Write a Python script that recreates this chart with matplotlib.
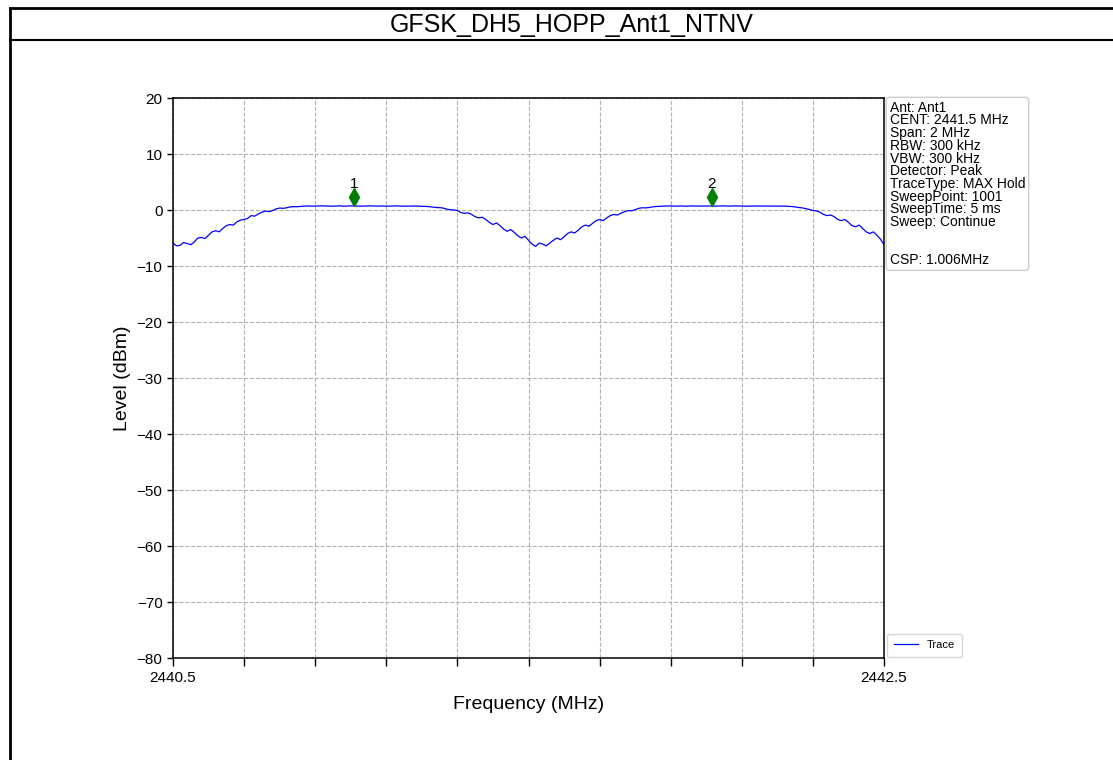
import numpy as np
import matplotlib
matplotlib.use("Agg")
import matplotlib.pyplot as plt
from matplotlib.lines import Line2D
from matplotlib.transforms import offset_copy

plt.rcParams["font.family"] = ["Liberation Sans", "DejaVu Sans"]

# sweep: 2440.5 .. 2442.5 MHz, values every 0.01 MHz
freq = np.linspace(2440.5, 2442.5, 201)
level = [
    -5.9, -6.4, -6.3, -5.8, -6.0, -6.2, -5.7, -5.0, -4.9, -5.1,
    -4.5, -3.9, -3.7, -3.9, -3.3, -2.8, -2.6, -2.7, -2.1, -1.8,
    -1.7, -1.5, -1.0, -1.1, -0.7, -0.4, -0.2, -0.3, -0.1, 0.2,
    0.35, 0.3, 0.4, 0.55, 0.6, 0.58, 0.65, 0.7, 0.72, 0.69,
    0.7, 0.73, 0.75, 0.71, 0.7, 0.68, 0.72, 0.74, 0.68, 0.7,
    0.74, 0.72, 0.7, 0.69, 0.71, 0.73, 0.73, 0.7, 0.7, 0.72,
    0.68, 0.7, 0.72, 0.74, 0.7, 0.68, 0.69, 0.71, 0.71, 0.7,
    0.66, 0.64, 0.6, 0.52, 0.45, 0.42, 0.35, 0.15, 0.05, 0.0,
    -0.1, -0.45, -0.6, -0.5, -0.8, -1.2, -1.4, -1.3, -1.7, -2.2,
    -2.6, -2.3, -2.8, -3.4, -3.8, -3.5, -4.0, -4.6, -5.0, -4.7,
    -5.4, -6.1, -6.5, -5.9, -6.1, -6.4, -5.9, -5.4, -5.0, -5.3,
    -4.8, -4.2, -3.9, -4.1, -3.6, -3.0, -2.7, -2.9, -2.4, -1.9,
    -1.7, -1.9, -1.4, -1.0, -0.8, -0.9, -0.6, -0.3, -0.1, -0.15,
    0.05, 0.3, 0.4, 0.38, 0.45, 0.58, 0.62, 0.65, 0.7, 0.72,
    0.72, 0.7, 0.7, 0.73, 0.68, 0.71, 0.73, 0.7, 0.7, 0.69,
    0.71, 0.72, 0.69, 0.7, 0.72, 0.74, 0.7, 0.71, 0.74, 0.72,
    0.7, 0.68, 0.68, 0.71, 0.71, 0.7, 0.7, 0.72, 0.72, 0.7,
    0.69, 0.7, 0.7, 0.66, 0.62, 0.55, 0.45, 0.38, 0.25, 0.1,
    -0.1, -0.15, -0.4, -0.8, -1.0, -0.9, -1.2, -1.7, -1.9, -1.7,
    -2.2, -2.8, -3.0, -2.7, -3.3, -3.9, -4.2, -3.9, -4.5, -5.2,
    -6.2,
]

mk_freq = [2441.009, 2442.015]
mk_level = [0.72, 0.72]
mk_names = ["1", "2"]

info_lines = [
    "Ant: Ant1",
    "CENT: 2441.5 MHz",
    "Span: 2 MHz",
    "RBW: 300 kHz",
    "VBW: 300 kHz",
    "Detector: Peak",
    "TraceType: MAX Hold",
    "SweepPoint: 1001",
    "SweepTime: 5 ms",
    "Sweep: Continue",
    "",
    "",
    "CSP: 1.006MHz",
]

x_ticks = np.round(np.arange(2440.5, 2442.51, 0.2), 1)
x_labels = ["2440.5"] + [""] * 9 + ["2442.5"]
y_ticks = list(range(-80, 21, 10))

fig = plt.figure(figsize=(11.13, 7.6), dpi=100)

# page frame around the chart
fig.add_artist(Line2D([10 / 1113, 10 / 1113], [0, 1 - 8 / 760], color="black", lw=2))
fig.add_artist(Line2D([10 / 1113, 1], [1 - 8 / 760, 1 - 8 / 760], color="black", lw=2))
fig.add_artist(Line2D([10 / 1113, 1], [1 - 40 / 760, 1 - 40 / 760], color="black", lw=1.5))
fig.text(0.514, 1 - 25 / 760, "GFSK_DH5_HOPP_Ant1_NTNV", ha="center", va="center", fontsize=18)

ax = fig.add_axes([173 / 1113, 1 - 658 / 760, 711 / 1113, 560 / 760])
ax.plot(freq, level, color="blue", lw=0.9, label="Trace")

up_mk = offset_copy(ax.transData, fig=fig, x=0, y=9, units="dots")
up_txt = offset_copy(ax.transData, fig=fig, x=0, y=22, units="dots")
for f, l, n in zip(mk_freq, mk_level, mk_names):
    ax.plot(f, l, marker="d", color="green", markersize=9, transform=up_mk, ls="none")
    ax.text(f, l, n, transform=up_txt, ha="center", va="center", fontsize=11)

ax.set_xlim(2440.5, 2442.5)
ax.set_ylim(-80, 20)
ax.set_xticks(x_ticks)
ax.set_xticklabels(x_labels, fontsize=11)
ax.set_yticks(y_ticks)
ax.set_yticklabels([str(v).replace("-", "\u2212") for v in y_ticks], fontsize=11)
ax.tick_params(axis="x", length=6, width=1)
ax.tick_params(axis="y", length=4, width=1)
ax.grid(True, ls="--", color="#b0b0b0", lw=0.8)
for s in ax.spines.values():
    s.set_linewidth(1.1)

ax.set_xlabel("Frequency (MHz)", fontsize=14, labelpad=8)
ax.set_ylabel("Level (dBm)", fontsize=14)

ax.text(1.008, 0.995, "\n".join(info_lines), transform=ax.transAxes, ha="left", va="top",
        fontsize=10, linespacing=0.88,
        bbox=dict(boxstyle="round,pad=0.25", fc="white", ec="#cccccc"))

ax.legend(loc="lower left", bbox_to_anchor=(1.003, 0.0), fontsize=8, handlelength=2.2,
          borderpad=0.6, borderaxespad=0.1, edgecolor="#cccccc")

fig.savefig("out.png", dpi=100)
